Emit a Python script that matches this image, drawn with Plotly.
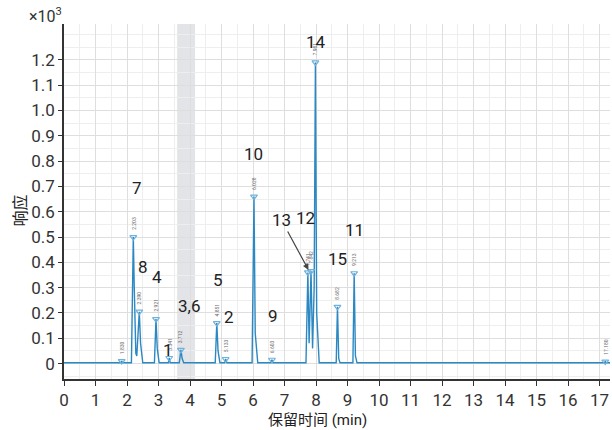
import plotly.graph_objects as go

# ---------------- data ----------------
trace_time = [0.00, 1.80, 1.83, 1.86, 2.14, 2.18, 2.20, 2.23, 2.28, 2.31, 2.35, 2.39, 2.43, 2.50,
              2.87, 2.92, 2.96, 3.02, 3.31, 3.34, 3.37, 3.66, 3.71, 3.75, 3.80,
              4.80, 4.85, 4.89, 4.95, 5.10, 5.13, 5.17, 5.97, 6.03, 6.07, 6.15,
              6.57, 6.60, 6.63, 7.68, 7.74, 7.78, 7.84, 7.89, 7.94, 7.98, 8.02, 8.10,
              8.64, 8.68, 8.72, 8.76, 9.17, 9.21, 9.25, 9.30, 17.15, 17.18, 17.21, 17.35]
trace_resp = [0.003, 0.003, 0.010, 0.003, 0.003, 0.30, 0.50, 0.30, 0.04, 0.03, 0.15, 0.205, 0.08, 0.003,
              0.003, 0.176, 0.06, 0.003, 0.003, 0.022, 0.003, 0.003, 0.054, 0.02, 0.003,
              0.003, 0.16, 0.05, 0.003, 0.003, 0.018, 0.003, 0.003, 0.66, 0.12, 0.003,
              0.003, 0.015, 0.003, 0.003, 0.36, 0.08, 0.365, 0.06, 0.30, 1.19, 0.20, 0.003,
              0.003, 0.224, 0.02, 0.003, 0.003, 0.357, 0.03, 0.003, 0.003, 0.008, 0.003, 0.003]

peak_rt = [1.83, 2.20, 2.39, 2.92, 3.34, 3.71, 4.85, 5.13, 6.03, 6.60, 7.74, 7.84, 7.98, 8.68, 9.21, 17.18]
peak_h = [0.010, 0.50, 0.205, 0.176, 0.022, 0.054, 0.16, 0.018, 0.66, 0.015, 0.36, 0.365, 1.19, 0.224, 0.357, 0.008]
peak_rt_text = ["1.830", "2.203", "2.390", "2.921", "3.341", "3.712", "4.851", "5.133", "6.028",
                "6.603", "7.741", "7.842", "7.981", "8.682", "9.213", "17.180"]

label_text = ["7", "8", "4", "1", "3,6", "5", "2", "10", "9", "12", "14", "15", "11"]
label_x = [2.32, 2.51, 2.95, 3.30, 3.97, 4.89, 5.24, 6.00, 6.63, 7.68, 8.00, 8.67, 9.21]
label_y = [0.694, 0.381, 0.342, 0.053, 0.227, 0.330, 0.184, 0.828, 0.188, 0.575, 1.271, 0.413, 0.527]

arrow_label = "13"
arrow_head = (7.76, 0.37)

shade_range = (3.59, 4.16)

x_ticks = list(range(0, 18))
y_ticks = [0, 0.1, 0.2, 0.3, 0.4, 0.5, 0.6, 0.7, 0.8, 0.9, 1.0, 1.1, 1.2]
y_tick_text = ["0", "0.1", "0.2", "0.3", "0.4", "0.5", "0.6", "0.7", "0.8", "0.9", "1.0", "1.1", "1.2"]

# ---------------- figure ----------------
FONT = "Roboto, 'Noto Sans CJK SC', sans-serif"
fig = go.Figure()

fig.add_shape(type="rect", xref="x", yref="paper", x0=shade_range[0], x1=shade_range[1],
              y0=0, y1=1, fillcolor="#e2e4e7", line_width=0, layer="below")

fig.add_trace(go.Scatter(x=trace_time, y=trace_resp, mode="lines",
                         line=dict(color="#2b88c2", width=1.4), hoverinfo="skip", showlegend=False))

fig.add_trace(go.Scatter(x=peak_rt, y=peak_h, mode="markers",
                         marker=dict(symbol="triangle-down-open", size=6, color="#6fb3dc",
                                     line=dict(width=1.2)),
                         showlegend=False, hoverinfo="skip"))

for rt, h, t in zip(peak_rt, peak_h, peak_rt_text):
    fig.add_annotation(x=rt, y=h, text=t, showarrow=False, textangle=-90,
                       xanchor="center", yanchor="bottom", yshift=5,
                       font=dict(size=5, color="#666666", family=FONT))

for t, x, y in zip(label_text, label_x, label_y):
    fig.add_annotation(x=x, y=y, text=t, showarrow=False,
                       font=dict(size=17, color="#222222", family=FONT))

fig.add_annotation(x=arrow_head[0], y=arrow_head[1], text=arrow_label, showarrow=True,
                   ax=-27, ay=-50, arrowhead=2, arrowsize=1, arrowwidth=1.2,
                   arrowcolor="#444444", font=dict(size=17, color="#222222", family=FONT))

fig.add_annotation(xref="paper", yref="paper", x=0, y=1, text="×10<sup>3</sup>",
                   showarrow=False, xanchor="right", yanchor="bottom", xshift=0, yshift=-4,
                   font=dict(size=16, color="#333333", family=FONT))

fig.add_annotation(xref="paper", yref="paper", x=0, y=0.5, text="响应", textangle=-90,
                   showarrow=False, xanchor="center", yanchor="middle", xshift=-44, yshift=-9,
                   font=dict(size=16, color="#222222", family=FONT))

fig.add_annotation(xref="x", yref="paper", x=8.06, y=0, text="保留时间 (min)",
                   showarrow=False, xanchor="center", yanchor="top", yshift=-30,
                   font=dict(size=15, color="#222222", family=FONT))

fig.update_xaxes(range=[0, 17.33], tickvals=x_ticks, ticks="outside", ticklen=5,
                 tickcolor="#333333", showline=True, linecolor="#333333", linewidth=1.5,
                 gridcolor="#dedede", gridwidth=1, zeroline=False,
                 tickfont=dict(size=17, color="#333333", family=FONT),
                 minor=dict(dtick=0.5, tick0=0, showgrid=True, gridcolor="#eeeeee", ticks=""))

fig.update_yaxes(range=[-0.061, 1.342], tickvals=y_ticks, ticktext=y_tick_text,
                 ticks="outside", ticklen=4, tickcolor="#333333", showline=True,
                 linecolor="#333333", linewidth=1.5, gridcolor="#dedede", gridwidth=1,
                 zeroline=False, tickfont=dict(size=17, color="#333333", family=FONT),
                 minor=dict(dtick=0.05, tick0=0, showgrid=True, gridcolor="#eeeeee", ticks=""))

fig.update_layout(width=612, height=430, margin=dict(l=64, r=2, t=24, b=51),
                  paper_bgcolor="white", plot_bgcolor="white", showlegend=False,
                  font=dict(family=FONT))

fig.write_html("out.html", config={"displayModeBar": False},
               post_script="document.body.style.margin='0';document.body.style.overflow='hidden';")
